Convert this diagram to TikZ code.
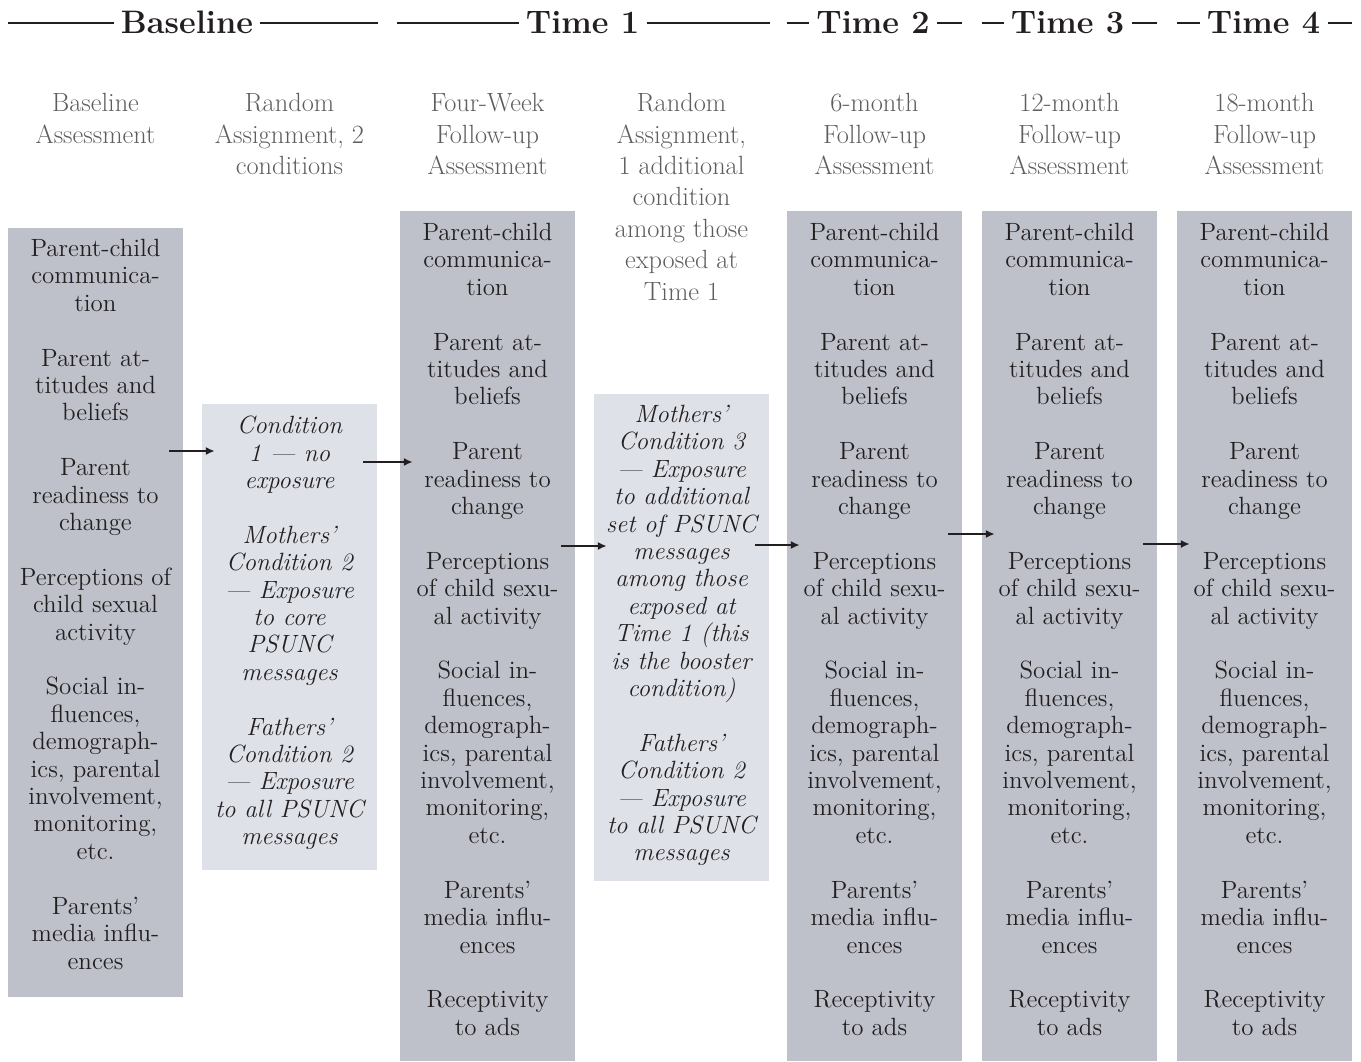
\documentclass[tikz,border=0pt]{standalone}
\usetikzlibrary{positioning,calc,arrows.meta}

\definecolor{boxdark}{HTML}{BEC1CA}
\definecolor{boxlight}{HTML}{DFE1E8}
\definecolor{headgray}{HTML}{5E5E5E}
\definecolor{inkblack}{HTML}{231F20}

\newcommand{\skipline}{\\[15.6pt]}
\newcommand{\measures}{Parent-child\\communica-\\tion\skipline
Parent at-\\titudes and\\beliefs\skipline
Parent\\readiness to\\change\skipline
Perceptions\\of child sexu-\\al activity\skipline
Social in-\\fluences,\\demograph-\\ics, parental\\involvement,\\monitoring,\\etc.\skipline
Parents’\\media influ-\\ences\skipline
Receptivity\\to ads}

\begin{document}
\begin{tikzpicture}[
	x=0.02cm, y=-0.02cm,
	box/.style = {rectangle, minimum width=3.5cm, inner sep=0pt},
	darkbox/.style = {box, fill=boxdark},
	lightbox/.style = {box, fill=boxlight},
	txt/.style = {align=center, inner sep=0pt, text=inkblack,
		font=\fontsize{14.2}{15.6}\selectfont},
	condtxt/.style = {txt, font=\fontsize{14.2}{15.6}\selectfont\itshape},
	head/.style = {align=center, inner sep=0pt, anchor=north, text=headgray,
		font=\fontsize{15}{17.9}\selectfont},
	title/.style = {inner sep=0pt, anchor=base, text=inkblack,
		font=\fontsize{18.5}{20}\selectfont\bfseries},
	rule/.style = {line width=1.1pt, inkblack},
	flow/.style = {line width=1.1pt, inkblack, -{Latex[length=5pt,width=4.6pt]}},
	]
	\useasboundingbox (0,0) rectangle (1361,1061);

	% period titles with rules on both sides
	\foreach \name/\x/\a/\b [count=\i] in {Baseline/187/8/378, Time 1/582.5/397/770,
		Time 2/873/787/962, Time 3/1067.5/982/1157, Time 4/1263.5/1177/1352}
	{
	\node[title] (title\i) at (\x,34) {\name};
	\draw[rule] (title\i.west -| \a,0) -- ([xshift=-4pt]title\i.west);
	\draw[rule] ([xshift=4pt]title\i.east) -- (title\i.east -| \b,0);
	}

	% column heads
	\node[head] (head1) at (95.5,93) {Baseline\\Assessment};
	\node[head] (head2) at (289.5,93) {Random\\Assignment, 2\\conditions};
	\node[head] (head3) at (487.5,93) {Four-Week\\Follow-up\\Assessment};
	\node[head] (head4) at (681.5,93) {Random\\Assignment,\\1 additional\\condition\\among those\\exposed at\\Time 1};
	\node[head] (head5) at (874.5,93) {6-month\\Follow-up\\Assessment};
	\node[head] (head6) at (1069.5,93) {12-month\\Follow-up\\Assessment};
	\node[head] (head7) at (1264.5,93) {18-month\\Follow-up\\Assessment};

	% baseline measures
	\node[darkbox, minimum height=15.38cm] (m1) at (95.5,612.5) {};
	\node[txt, below=0.22cm of m1.north] (t1) {Parent-child\\communica-\\tion\skipline
		Parent at-\\titudes and\\beliefs\skipline
		Parent\\readiness to\\change\skipline
		Perceptions of\\child sexual\\activity\skipline
		Social in-\\fluences,\\demograph-\\ics, parental\\involvement,\\monitoring,\\etc.\skipline
		Parents’\\media influ-\\ences};

	% conditions
	\node[lightbox, minimum height=9.32cm] (m2) at (289.5,637) {};
	\node[condtxt, below=0.24cm of m2.north] (t2) {Condition\\1 — no\\exposure\skipline
		Mothers’\\Condition 2\\— Exposure\\to core\\PSUNC\\messages\skipline
		Fathers’\\Condition 2\\— Exposure\\to all PSUNC\\messages};

	\node[lightbox, minimum height=9.74cm] (m4) at (681.5,637.5) {};
	\node[condtxt, below=0.22cm of m4.north] (t4) {Mothers’\\Condition 3\\— Exposure\\to additional\\set of PSUNC\\messages\\among those\\exposed at\\Time 1 (this\\is the booster\\condition)\skipline
		Fathers’\\Condition 2\\— Exposure\\to all PSUNC\\messages};

	% follow-up measures
	\foreach \x/\i in {487.5/3, 874.5/5, 1069.5/6, 1264.5/7}
	{
	\node[darkbox, minimum height=17cm] (m\i) at (\x,636) {};
	\node[txt, below=0.24cm of m\i.north] (t\i) {\measures};
	}

	% arrows between columns
	\foreach \a/\b/\y in {1/2/451, 2/3/462, 3/4/546, 4/5/545, 5/6/534, 6/7/544}
	\draw[flow] ($(m\a.east |- 0,\y)+(-14,0)$) -- ($(m\b.west |- 0,\y)+(13,0)$);
\end{tikzpicture}
\end{document}
